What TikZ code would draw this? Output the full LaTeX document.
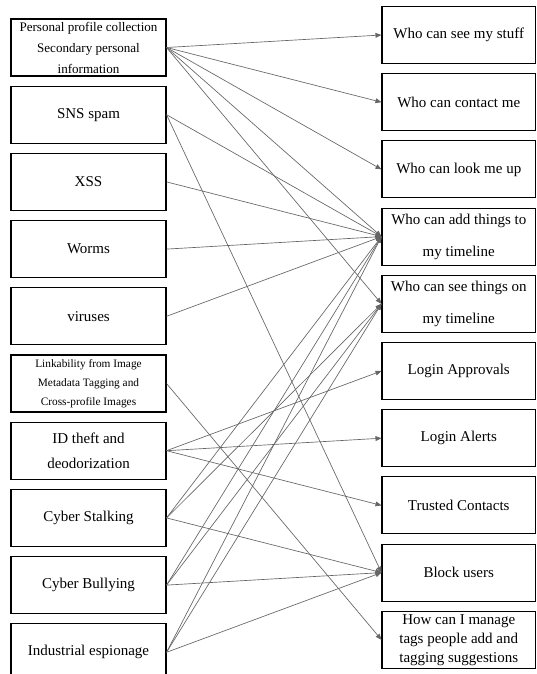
\documentclass[tikz,border=0pt]{standalone}
\usepackage{fontspec}
\setmainfont{Liberation Serif}
\usetikzlibrary{arrows.meta}

\begin{document}
\begin{tikzpicture}[
    x=0.75pt, y=-0.75pt,
    threat/.style={draw=black, line width=0.8pt, inner sep=0pt, align=center,
      minimum width=116.25pt, minimum height=42.75pt,
      font=\fontsize{11.25}{24}\selectfont},
    setting/.style={threat, minimum width=115.1pt},
    conn/.style={-{Triangle[length=4.5pt, width=3.6pt]}, black!60, line width=0.5pt},
]
\useasboundingbox (0,0) rectangle (536,674);
\clip (0,0) rectangle (536,674);
\node[threat, font=\fontsize{9.8}{15.75}\selectfont] (profile) at (88.5,47.5) {Personal profile collection\\Secondary personal\\information};
\node[threat] (spam) at (88.5,114.7) {SNS spam};
\node[threat] (xss) at (88.5,181.9) {XSS};
\node[threat] (worms) at (88.5,249.1) {Worms};
\node[threat] (virus) at (88.5,316.3) {viruses};
\node[threat, font=\fontsize{8.5}{14.25}\selectfont] (linkab) at (88.5,383.5) {Linkability from Image\\Metadata Tagging and\\Cross-profile Images};
\node[threat, font=\fontsize{11.25}{18.75}\selectfont] (idtheft) at (88.5,450.7) {ID theft and\\deodorization};
\node[threat] (stalk) at (88.5,517.9) {Cyber Stalking};
\node[threat] (bully) at (88.5,585.1) {Cyber Bullying};
\node[threat] (espion) at (88.5,652.3) {Industrial espionage};

\node[setting] (stuff) at (458.75,35) {Who can see my stuff};
\node[setting] (contact) at (458.75,102.2) {Who can contact me};
\node[setting] (lookup) at (458.75,169.4) {Who can look me up};
\node[setting] (addtl) at (458.75,236.6) {Who can add things to\\my timeline};
\node[setting] (seetl) at (458.75,303.8) {Who can see things on\\my timeline};
\node[setting] (approve) at (458.75,371) {Login Approvals};
\node[setting] (alerts) at (458.75,438.2) {Login Alerts};
\node[setting] (trusted) at (458.75,505.4) {Trusted Contacts};
\node[setting] (block) at (458.75,572.6) {Block users};
\node[setting, font=\fontsize{11.25}{14.25}\selectfont] (tags) at (458.75,639.8) {How can I manage\\tags people add and\\tagging suggestions};

\foreach \a/\b in {profile/stuff, profile/contact, profile/lookup, profile/addtl, profile/seetl,
    spam/addtl, spam/block, xss/addtl, worms/addtl, virus/addtl, linkab/tags,
    idtheft/approve, idtheft/alerts, idtheft/trusted,
    stalk/addtl, stalk/seetl, stalk/block, bully/addtl, bully/seetl, bully/block,
    espion/addtl, espion/seetl, espion/block} {
  \draw[conn] (\a.east) -- (\b.west);
}
\end{tikzpicture}
\end{document}
